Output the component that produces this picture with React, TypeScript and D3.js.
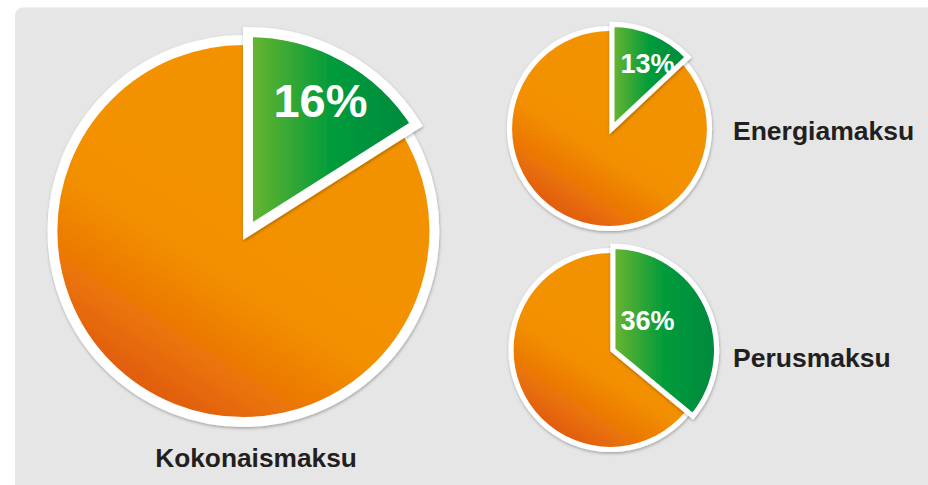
import React from "react";
import * as d3 from "d3";

// ---- data ----
const pieNames = ["Kokonaismaksu", "Energiamaksu", "Perusmaksu"];
const greenShares = [16, 13, 36]; // percent (green slice)
const shareLabels = ["16%", "13%", "36%"];

// ---- layout (positions / sizes, not data) ----
const W = 928;
const H = 485;
const layout = [
  { cx: 243.4, cy: 231, r: 191, pctSize: 47, pctDx: 30, pctDy: -114, nameX: 256, nameY: 466.7, nameAnchor: "middle", nameSize: 26.3 },
  { cx: 609.5, cy: 128.5, r: 100, pctSize: 27, pctDx: 11, pctDy: -55.5, nameX: 733, nameY: 140, nameAnchor: "start", nameSize: 26.5 },
  { cx: 610.5, cy: 350, r: 99.5, pctSize: 27, pctDx: 10, pctDy: -20, nameX: 733, nameY: 366.7, nameAnchor: "start", nameSize: 26.5 },
];

const FONT = "'Liberation Sans', Arial, Helvetica, sans-serif";

export default function App() {
  const pieGen = d3
    .pie<number>()
    .sort(null)
    .value((d) => d)
    .startAngle(0)
    .endAngle(2 * Math.PI);

  return (
    <svg
      width={W}
      height={H}
      viewBox={`0 0 ${W} ${H}`}
      style={{ position: "absolute", left: 0, top: 0 }}
    >
      <defs>
        <linearGradient id="orangeGrad" x1="0.2" y1="0.92" x2="0.52" y2="0.42">
          <stop offset="0" stopColor="#df580e" />
          <stop offset="0.3" stopColor="#ea7407" />
          <stop offset="0.65" stopColor="#f28f01" />
          <stop offset="1" stopColor="#f39200" />
        </linearGradient>
        <linearGradient id="greenGrad" x1="0" y1="0" x2="1" y2="0">
          <stop offset="0" stopColor="#6cb52f" />
          <stop offset="0.5" stopColor="#009b3b" />
          <stop offset="1" stopColor="#00893d" />
        </linearGradient>
        <filter id="shadow" x="-10%" y="-10%" width="120%" height="120%">
          <feDropShadow dx="0.5" dy="1.5" stdDeviation="1.6" floodColor="#000" floodOpacity="0.3" />
        </filter>
      </defs>
      <rect x={0} y={0} width={W} height={H} fill="#ffffff" />
      <rect x={15} y={7.5} width={W + 20} height={H + 20} rx={8} fill="#e6e6e6" />

      {greenShares.map((share, i) => {
        const L = layout[i];
        const arcs = pieGen([share, 100 - share]);
        const green = arcs[0];
        const sw = L.r * 0.052;
        const rg = L.r * 1.042;
        const dx = L.r * 0.024;
        const arcGen = d3.arc<d3.PieArcDatum<number>>().innerRadius(0).outerRadius(rg);
        const fullCircle = d3
          .arc<any>()
          .innerRadius(0)
          .outerRadius(L.r)({ startAngle: 0, endAngle: 2 * Math.PI } as any) as string;
        return (
          <g key={pieNames[i]}>
            <g transform={`translate(${L.cx},${L.cy})`}>
              <path
                d={fullCircle}
                fill="url(#orangeGrad)"
                stroke="#ffffff"
                strokeWidth={sw}
                filter="url(#shadow)"
              />
              <g transform={`translate(${dx},0)`}>
                <path
                  d={arcGen(green) as string}
                  fill="url(#greenGrad)"
                  stroke="#ffffff"
                  strokeWidth={sw}
                  strokeLinejoin="miter"
                  filter="url(#shadow)"
                />
              </g>
              <text
                x={L.pctDx}
                y={L.pctDy}
                fill="#ffffff"
                fontFamily={FONT}
                fontWeight="bold"
                fontSize={L.pctSize}
              >
                {shareLabels[i]}
              </text>
            </g>
            <text
              x={L.nameX}
              y={L.nameY}
              textAnchor={L.nameAnchor as any}
              fill="#231f20"
              fontFamily={FONT}
              fontWeight="bold"
              fontSize={L.nameSize}
            >
              {pieNames[i]}
            </text>
          </g>
        );
      })}
    </svg>
  );
}
